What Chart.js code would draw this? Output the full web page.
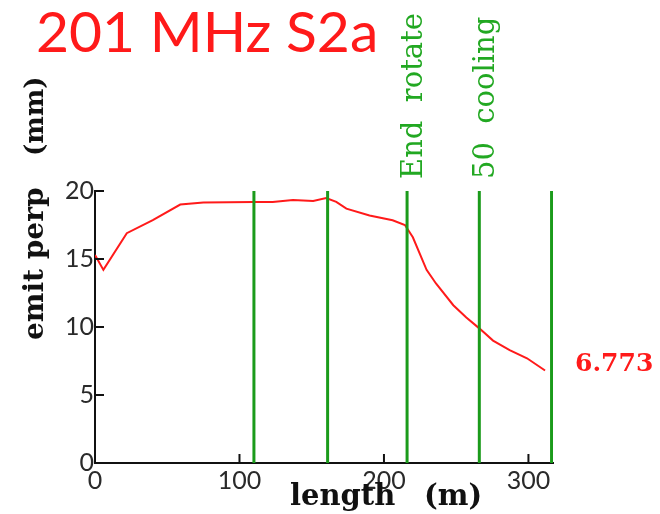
<!DOCTYPE html>
<html>
<head>
<meta charset="utf-8">
<script src="https://cdn.jsdelivr.net/npm/chart.js@4"></script>
<style>
  html, body { margin: 0; padding: 0; background: #fff; }
  #wrap { width: 660px; height: 514px; }
</style>
</head>
<body>
<div id="wrap"><canvas id="chart" width="660" height="514"></canvas></div>
<script>
// emittance along the channel
const lengthM   = [0, 5.8, 22, 40, 59, 75, 110, 123, 137, 151, 160, 167, 174, 190, 206, 214.5, 220, 229.5, 236, 248, 257, 266, 275.5, 287, 299, 311.5];
const emitPerp  = [15.3, 14.2, 16.9, 17.85, 19.0, 19.15, 19.2, 19.2, 19.34, 19.27, 19.48, 19.2, 18.7, 18.2, 17.85, 17.5, 16.6, 14.2, 13.2, 11.6, 10.7, 9.9, 9.0, 8.3, 7.7, 6.8];
const markerX   = [110, 161, 216, 266, 316];
const markerLabels = ['', '', 'End  rotate', '50  cooling', ''];
const xTicks = [0, 100, 200, 300];
const yTicks = [0, 5, 10, 15, 20];
const finalValue = '6.773';

const RED = '#ff1a1a';
const GREEN = '#1b9b1b';

const datasets = [];
markerX.forEach(function (x) {
  datasets.push({
    data: [{x: x, y: 0}, {x: x, y: 20}],
    borderColor: GREEN,
    borderWidth: 3,
    pointRadius: 0,
    showLine: true
  });
});
datasets.push({
  data: lengthM.map((x, i) => ({x: x, y: emitPerp[i]})),
  borderColor: RED,
  borderWidth: 2,
  pointRadius: 0,
  showLine: true,
  tension: 0
});

const decor = {
  id: 'decor',
  afterDraw(chart) {
    const ctx = chart.ctx;
    const xs = chart.scales.x, ys = chart.scales.y;
    ctx.save();

    // inward tick marks
    ctx.strokeStyle = '#111';
    ctx.lineWidth = 2;
    xTicks.forEach(v => {
      const px = xs.getPixelForValue(v);
      ctx.beginPath(); ctx.moveTo(px, ys.bottom); ctx.lineTo(px, ys.bottom - 9); ctx.stroke();
    });
    yTicks.forEach(v => {
      const py = ys.getPixelForValue(v);
      ctx.beginPath(); ctx.moveTo(xs.left, py); ctx.lineTo(xs.left + 9, py); ctx.stroke();
    });

    // title
    ctx.fillStyle = RED;
    ctx.font = '57px Lato';
    ctx.textAlign = 'left';
    ctx.textBaseline = 'alphabetic';
    ctx.fillText('201 MHz S2a', 36, 52);

    // axis titles
    ctx.fillStyle = '#111';
    ctx.font = 'bold 29px "DejaVu Serif"';
    ctx.fillText('length', 290, 505);
    ctx.fillText('(m)', 424, 505);
    ctx.save();
    ctx.translate(43, 340);
    ctx.rotate(-Math.PI / 2);
    ctx.font = 'bold 28px "DejaVu Serif"';
    ctx.fillText('emit perp', 0, 0);
    ctx.font = 'bold 26px "DejaVu Serif"';
    ctx.fillText('(mm)', 184, 0);
    ctx.restore();

    // marker labels
    ctx.fillStyle = '#22a822';
    ctx.font = '29px "DejaVu Serif"';
    markerX.forEach((x, i) => {
      if (!markerLabels[i]) return;
      ctx.save();
      ctx.translate(xs.getPixelForValue(x) + 15, 179);
      ctx.rotate(-Math.PI / 2);
      ctx.textAlign = 'left';
      ctx.fillText(markerLabels[i], 0, 0);
      ctx.restore();
    });

    // final value
    ctx.fillStyle = RED;
    ctx.font = 'bold 25px "DejaVu Serif"';
    ctx.textAlign = 'left';
    ctx.textBaseline = 'middle';
    ctx.fillText(finalValue, 575, 364);

    ctx.restore();
  }
};

new Chart(document.getElementById('chart'), {
  type: 'scatter',
  data: { datasets: datasets },
  options: {
    responsive: false,
    animation: false,
    layout: { padding: { top: 191, right: 107, left: 0, bottom: 0 } },
    plugins: { legend: { display: false }, tooltip: { enabled: false } },
    scales: {
      x: {
        type: 'linear', min: 0, max: 317,
        afterBuildTicks: s => { s.ticks = xTicks.map(v => ({value: v})); },
        afterFit: s => { s.height = 51; },
        grid: { drawOnChartArea: false, drawTicks: false },
        border: { color: '#111', width: 2 },
        ticks: { color: '#2a2a2a', font: { family: 'Lato', size: 25 }, padding: 3 }
      },
      y: {
        min: 0, max: 20,
        afterBuildTicks: s => { s.ticks = yTicks.map(v => ({value: v})); },
        afterFit: s => { s.width = 95; },
        grid: { drawOnChartArea: false, drawTicks: false },
        border: { color: '#111', width: 2 },
        ticks: { color: '#2a2a2a', font: { family: 'Lato', size: 25 }, padding: 1 }
      }
    }
  },
  plugins: [decor]
});
</script>
</body>
</html>
